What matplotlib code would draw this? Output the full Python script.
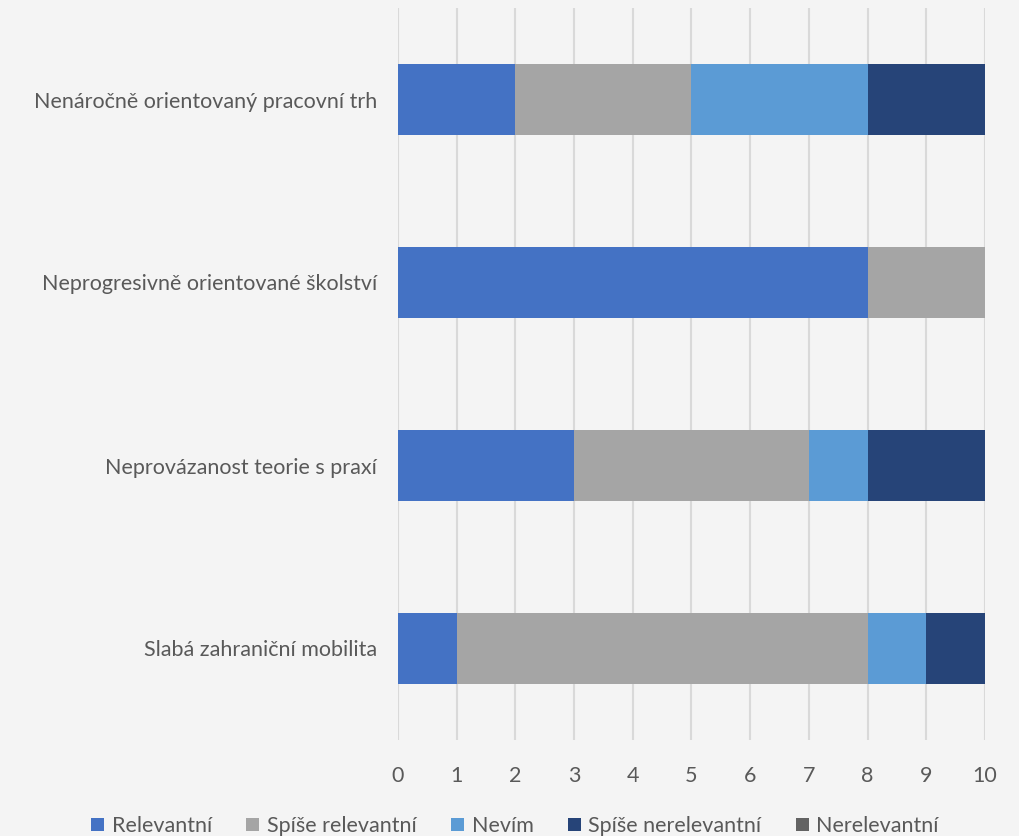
import numpy as np
from matplotlib import pyplot as plt

# survey answers, one list per response option
categories = [
    "Nenáročně orientovaný pracovní trh",
    "Neprogresivně orientované školství",
    "Neprovázanost teorie s praxí",
    "Slabá zahraniční mobilita",
]
series_names = ["Relevantní", "Spíše relevantní", "Nevím", "Spíše nerelevantní", "Nerelevantní"]
relevantni = [2, 8, 3, 1]
spise_relevantni = [3, 2, 4, 7]
nevim = [3, 0, 1, 1]
spise_nerelevantni = [2, 0, 2, 1]
nerelevantni = [0, 0, 0, 0]
x_ticks = list(range(0, 11))

colors = ["#4472C4", "#A5A5A5", "#5B9BD5", "#264478", "#636363"]
bg = "#F4F4F4"
text_col = "#595959"

plt.rcParams['font.family'] = ['Lato', 'DejaVu Sans']

fig = plt.figure(figsize=(10.2, 8.36), dpi=100, facecolor=bg)
ax = fig.add_axes([398 / 1020, 1 - 740 / 836, 587 / 1020, 732 / 836])
ax.set_facecolor(bg)

values = [relevantni, spise_relevantni, nevim, spise_nerelevantni, nerelevantni]
y = np.arange(len(categories))
left = np.zeros(len(categories))
for name, vals, c in zip(series_names, values, colors):
    ax.barh(y, vals, left=left, height=0.39, color=c, label=name, zorder=3)
    left += np.array(vals)

ax.set_xlim(0, 10)
ax.set_ylim(len(categories) - 0.5, -0.5)
ax.set_xticks(x_ticks)
ax.set_yticks(y)
ax.set_yticklabels(categories)
ax.grid(axis='x', color="#D9D9D9", linewidth=1.5, zorder=0)
for s in ax.spines.values():
    s.set_visible(False)
ax.tick_params(axis='both', length=0, colors=text_col, labelsize=15.5)
ax.tick_params(axis='y', pad=15)
ax.tick_params(axis='x', pad=19)

handles, labels = ax.get_legend_handles_labels()
fig.legend(handles, labels, loc='center', bbox_to_anchor=(0.505, 0.012), ncol=5,
           frameon=False, fontsize=15.5, labelcolor=text_col,
           handlelength=0.6, handleheight=0.6, handletextpad=0.35, columnspacing=1.6)

fig.savefig("out.png", dpi=100, facecolor=bg)
